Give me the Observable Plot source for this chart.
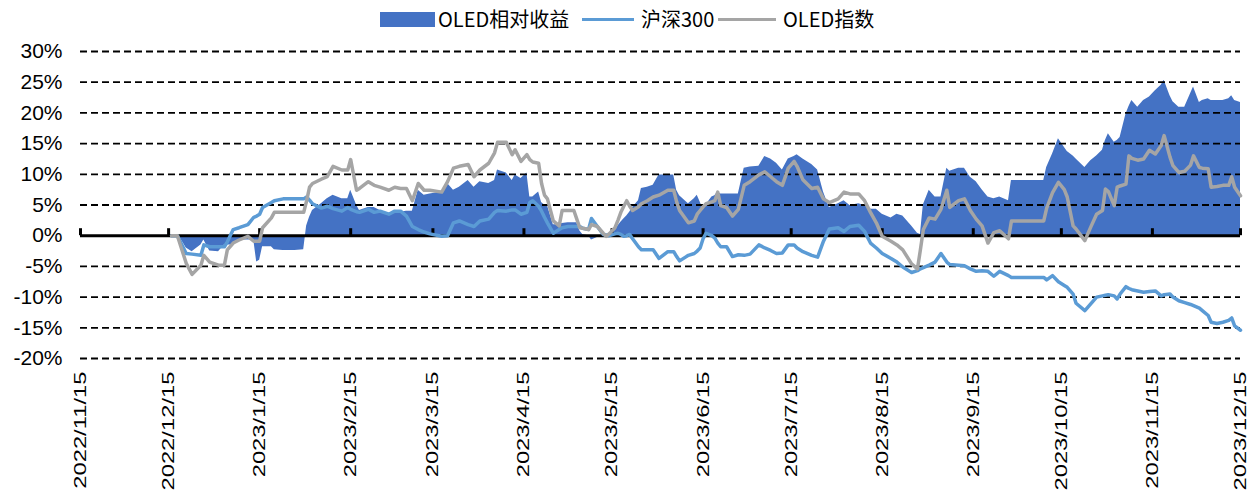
<!DOCTYPE html>
<html><head><meta charset="utf-8">
<script src="https://cdn.jsdelivr.net/npm/d3@7"></script>
<script src="https://cdn.jsdelivr.net/npm/@observablehq/plot@0.6"></script>
<style>
html,body{margin:0;padding:0;background:#fff}
body{width:1258px;height:497px;overflow:hidden;font-family:"Liberation Sans",Arial,sans-serif}
#legend{position:relative;height:36px;width:1258px;font-family:"Noto Sans CJK SC",sans-serif;font-size:20px;color:#000}
#legend .sw{position:absolute}
#legend .lb{position:absolute;top:7px;line-height:24px;white-space:nowrap}
#chart svg{display:block}
</style>
</head><body>
<div id="legend"></div>
<div id="chart"></div>
<script>
// ---- data (percent) ----
const dates = [
"2022-12-16","2022-12-18","2022-12-19","2022-12-21","2022-12-23","2022-12-26","2022-12-27","2022-12-29",
"2023-01-01","2023-01-03","2023-01-04","2023-01-06","2023-01-08","2023-01-11","2023-01-13","2023-01-14","2023-01-15","2023-01-16","2023-01-19","2023-01-20","2023-01-23","2023-01-27","2023-01-30","2023-01-31",
"2023-02-01","2023-02-02","2023-02-05","2023-02-07","2023-02-09","2023-02-12","2023-02-14","2023-02-15","2023-02-17","2023-02-18","2023-02-21","2023-02-23","2023-02-25","2023-02-28",
"2023-03-02","2023-03-04","2023-03-06","2023-03-08","2023-03-10","2023-03-12","2023-03-14","2023-03-18","2023-03-20","2023-03-22","2023-03-24","2023-03-27","2023-03-29","2023-03-31",
"2023-04-03","2023-04-05","2023-04-06","2023-04-09","2023-04-11","2023-04-12","2023-04-14","2023-04-16","2023-04-17","2023-04-18","2023-04-20","2023-04-21","2023-04-22","2023-04-23","2023-04-25","2023-04-27","2023-04-28","2023-04-30",
"2023-05-02","2023-05-03","2023-05-04","2023-05-05","2023-05-07","2023-05-08","2023-05-10","2023-05-12","2023-05-13","2023-05-14","2023-05-16","2023-05-17","2023-05-18","2023-05-19","2023-05-20","2023-05-21","2023-05-22","2023-05-24","2023-05-25","2023-05-27","2023-05-29","2023-05-31",
"2023-06-03","2023-06-05","2023-06-06","2023-06-07","2023-06-10","2023-06-12","2023-06-13","2023-06-14","2023-06-15","2023-06-16","2023-06-18","2023-06-19","2023-06-20","2023-06-21","2023-06-23","2023-06-25","2023-06-27","2023-06-29",
"2023-07-01","2023-07-04","2023-07-06","2023-07-08","2023-07-10","2023-07-12","2023-07-14","2023-07-16","2023-07-17","2023-07-19","2023-07-22","2023-07-24","2023-07-26","2023-07-28","2023-07-31",
"2023-08-02","2023-08-04","2023-08-07","2023-08-09","2023-08-11","2023-08-13","2023-08-15","2023-08-18","2023-08-20","2023-08-22","2023-08-25","2023-08-27","2023-08-28","2023-08-29","2023-08-31",
"2023-09-02","2023-09-04","2023-09-06","2023-09-07","2023-09-10","2023-09-12","2023-09-14","2023-09-16","2023-09-18","2023-09-20","2023-09-22","2023-09-24","2023-09-27","2023-09-28",
"2023-10-02","2023-10-05","2023-10-09","2023-10-10","2023-10-12","2023-10-14","2023-10-16","2023-10-17","2023-10-19","2023-10-20","2023-10-23","2023-10-25","2023-10-27","2023-10-29","2023-10-30","2023-10-31",
"2023-11-02","2023-11-03","2023-11-04","2023-11-06","2023-11-07","2023-11-08","2023-11-10","2023-11-12","2023-11-14","2023-11-16","2023-11-18","2023-11-19","2023-11-21","2023-11-22","2023-11-24","2023-11-26","2023-11-28","2023-11-29",
"2023-12-01","2023-12-02","2023-12-04","2023-12-05","2023-12-07","2023-12-09","2023-12-11","2023-12-12","2023-12-13","2023-12-15"
];
const hs300 = [
0,0,-1.0,-2.9,-3.0,-3.2,-1.5,-1.8,
-1.8,-1.8,-1.0,1.0,1.3,1.8,3.0,3.2,3.5,4.6,5.4,5.7,6.0,6.0,6.0,6.3,
5.8,5.2,4.5,4.8,4.4,4.0,4.6,4.3,3.9,3.8,4.3,3.8,4.0,3.5,
4.0,4.0,3.2,1.5,1.0,0.6,0.3,-0.1,0.0,2.1,2.4,1.8,1.5,2.4,
2.7,3.8,4.1,4.0,4.2,4.2,3.5,3.8,5.4,5.7,4.8,4.0,3.0,2.1,0.4,1.0,1.3,1.5,
1.5,1.5,1.5,1.2,1.0,2.8,1.5,0.2,0.1,0.0,0.3,0.4,0.2,-0.1,0.0,0.2,-0.5,-1.8,-2.3,-2.3,-2.3,-3.7,
-2.6,-2.6,-3.4,-4.1,-3.2,-2.9,-2.5,-2.0,-0.5,0.4,0.0,-0.4,-1.2,-1.8,-1.8,-3.4,-3.1,-3.2,
-3.0,-1.5,-2.0,-2.4,-2.9,-2.8,-1.5,-1.5,-2.0,-2.6,-3.2,-3.5,-0.9,1.1,1.3,
0.7,1.5,1.7,0.7,-1.2,-2.0,-2.9,-3.7,-4.3,-5.1,-6.0,-5.7,-5.4,-5.2,-4.8,
-4.3,-2.9,-4.3,-4.7,-4.8,-4.9,-5.4,-5.8,-5.7,-5.8,-6.6,-5.8,-6.5,-6.8,
-6.8,-6.8,-6.8,-7.2,-6.5,-7.5,-8.1,-8.4,-9.5,-11.0,-12.2,-11.1,-10.0,-9.8,-9.7,-9.6,
-9.8,-10.3,-9.5,-8.3,-8.6,-8.8,-9.0,-9.2,-9.1,-9.0,-9.8,-9.6,-9.5,-10.0,-10.6,-10.9,-11.2,-11.4,
-11.8,-12.2,-13.0,-14.1,-14.3,-14.1,-13.8,-13.4,-14.7,-15.4
];
const oledIndex = [
0,0,-1.5,-4.5,-6.3,-4.8,-3.2,-4.3,
-4.8,-4.8,-2.3,-1.2,-0.7,-0.1,-0.9,-0.9,-0.9,1.3,2.9,3.8,3.8,3.8,3.8,5.7,
7.9,8.5,9.2,9.6,11.3,10.7,10.7,12.4,7.4,7.7,8.8,8.2,7.9,7.4,
7.9,7.7,7.7,5.7,8.5,7.4,7.4,7.1,8.8,11.0,11.3,11.6,9.6,10.7,
11.8,13.5,15.2,15.2,13.2,14.0,12.1,13.2,12.4,12.0,11.8,8.5,6.6,6.0,2.4,1.6,4.1,4.1,
4.1,2.7,1.3,1.2,1.0,1.8,1.5,0.4,-0.1,0.3,1.3,2.5,3.8,4.8,5.7,4.8,4.1,4.7,5.2,5.7,6.3,6.6,
7.4,7.4,5.5,4.1,2.1,2.4,3.5,4.1,4.7,5.2,5.5,5.7,7.1,4.9,4.6,3.2,4.3,8.2,
8.8,9.9,10.4,9.6,8.8,8.2,11.0,12.1,11.3,9.1,7.7,7.9,6.0,5.4,6.0,
7.1,6.8,6.8,5.7,3.8,2.1,-0.1,-0.9,-1.5,-2.3,-4.6,-5.4,-2.3,1.0,2.9,
2.7,4.3,7.4,4.6,5.7,6.0,4.1,2.7,1.6,-1.2,0.5,0.8,-0.5,2.4,
2.4,2.4,2.4,4.5,7.0,8.7,7.5,6.3,1.6,1.1,-0.8,1.4,3.5,4.1,7.6,7.2,
4.9,7.9,8.1,8.4,13.0,12.6,12.3,12.5,13.9,13.3,14.7,16.3,12.8,11.4,10.3,10.5,11.5,13.0,
11.1,11.0,10.9,7.9,8.0,8.2,8.2,9.6,7.9,6.5
];
const oledRelative = [
0,0,-0.4,-2.0,-2.6,-1.5,-0.7,-2.5,
-2.6,-1.5,-1.5,-1.5,-0.7,-0.7,-0.7,-4.3,-4.0,-1.8,-1.8,-2.3,-2.4,-2.4,-2.3,1.6,
3.0,4.1,5.2,6.0,6.6,6.0,6.0,7.4,5.0,4.1,4.6,4.6,4.1,3.5,
3.8,3.8,4.0,4.0,7.4,6.6,6.8,7.1,8.5,7.4,7.9,9.0,7.9,8.8,
8.5,9.0,10.7,10.2,9.0,9.9,9.3,10.2,6.3,6.3,7.1,5.4,5.0,4.9,1.8,1.8,2.0,2.1,
2.1,2.1,0.8,0.2,0.0,-0.7,-0.3,-0.3,0.0,0.4,1.0,1.6,2.2,2.7,3.2,3.8,4.6,5.7,7.7,7.9,8.2,9.9,
9.9,9.9,7.4,6.5,5.2,6.0,6.6,5.5,4.3,5.0,6.3,6.5,7.1,6.8,6.8,6.8,6.8,11.0,
11.2,11.3,12.9,12.5,11.8,10.7,12.5,12.9,13.2,12.5,11.6,10.7,7.1,4.6,5.2,
5.7,4.9,5.2,4.9,4.3,4.3,3.5,2.9,3.5,3.2,1.6,0.4,0.2,5.0,7.4,
6.3,6.3,11.0,10.5,11.0,11.0,9.5,8.8,7.5,6.3,6.0,6.3,5.7,9.0,
9.0,9.0,9.0,11.1,13.3,15.8,14.4,13.7,13.0,12.5,11.1,12.2,13.0,13.9,15.5,16.6,
15.2,15.5,16.0,19.8,21.0,22.0,20.9,22.0,22.6,23.6,24.5,25.3,22.8,21.8,20.9,20.9,23.1,24.2,
21.7,22.0,22.3,22.0,22.0,22.0,22.3,22.8,22.0,21.7
];
const tickLabels = ["2022/11/15","2022/12/15","2023/1/15","2023/2/15","2023/3/15","2023/4/15","2023/5/15",
  "2023/6/15","2023/7/15","2023/8/15","2023/9/15","2023/10/15","2023/11/15","2023/12/15"];
const yTicks = [-20,-15,-10,-5,0,5,10,15,20,25,30];
const seriesNames = ["OLED相对收益","沪深300","OLED指数"];
const colors = ["#4472C4","#5B9BD5","#A5A5A5"];

// ---- legend ----
const lg = document.getElementById("legend");
lg.innerHTML = `
<div class="sw" style="left:380px;top:12px;width:55px;height:15px;background:${colors[0]}"></div>
<div class="lb" style="left:438px">${seriesNames[0]}</div>
<div class="sw" style="left:582px;top:18px;width:52px;height:3px;background:${colors[1]}"></div>
<div class="lb" style="left:641px">${seriesNames[1]}</div>
<div class="sw" style="left:718px;top:18px;width:58px;height:3px;background:${colors[2]}"></div>
<div class="lb" style="left:783px">${seriesNames[2]}</div>`;

// ---- chart ----
const parseD = d3.utcParse("%Y-%m-%d");
const parseT = d3.utcParse("%Y/%m/%d");
const data = dates.map((d, i) => ({date: parseD(d), hs: hs300[i], idx: oledIndex[i], rel: oledRelative[i]}));
const tickDates = tickLabels.map(parseT);
const labelOf = new Map(tickDates.map((d, i) => [+d, tickLabels[i]]));

const chart = Plot.plot({
  width: 1258, height: 461,
  marginLeft: 80, marginRight: 18, marginTop: 15, marginBottom: 139,
  style: {fontFamily: "Liberation Sans, Arial, sans-serif", fontSize: "20px", color: "#000", background: "#fff"},
  x: {type: "utc", domain: [tickDates[0], tickDates[tickDates.length - 1]]},
  y: {domain: [-20, 30]},
  marks: [
    Plot.areaY(data, {x: "date", y1: 0, y2: "rel", fill: colors[0]}),
    Plot.ruleY(yTicks.filter(v => v !== 0), {stroke: "#000", strokeWidth: 1.8, strokeDasharray: "7,4"}),
    Plot.ruleY([0], {stroke: "#000", strokeWidth: 3}),
    Plot.ruleX(tickDates, {x: d => d, y1: 0, y2: 0, insetTop: -7, stroke: "#000", strokeWidth: 3}),
    Plot.lineY(data, {x: "date", y: "hs", stroke: colors[1], strokeWidth: 3.5, strokeLinejoin: "round"}),
    Plot.lineY(data, {x: "date", y: "idx", stroke: colors[2], strokeWidth: 3.5, strokeLinejoin: "round"}),
    Plot.axisY({ticks: yTicks, tickFormat: d => d + "%", tickSize: 0, tickPadding: 18, fontSize: 21, label: null}),
    Plot.axisX({ticks: tickDates, tickFormat: d => labelOf.get(+d), tickRotate: -90, tickSize: 0, tickPadding: 13, fontSize: 17, label: null})
  ]
});
// stretch the rotated date labels along their reading direction, as in the reference
d3.select(chart).selectAll('g[aria-label="x-axis tick label"] text')
  .attr("transform", function() { return (this.getAttribute("transform") || "") + " scale(1.4,1)"; });
document.getElementById("chart").appendChild(chart);
</script>
</body></html>
